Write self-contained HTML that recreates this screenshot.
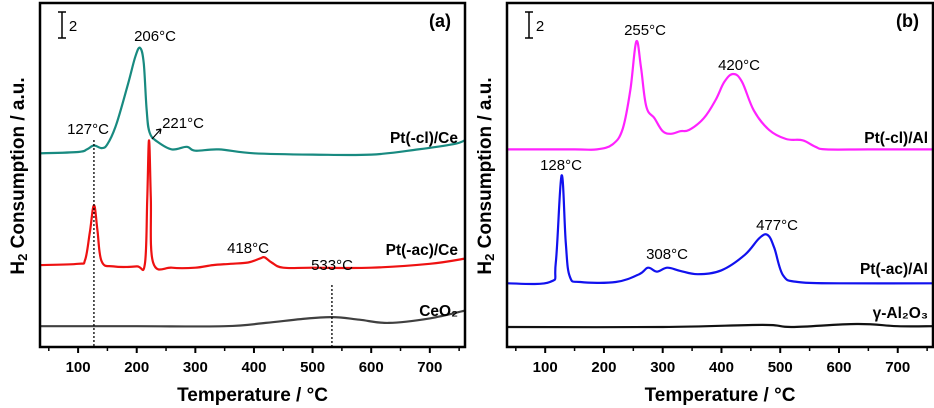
<!DOCTYPE html>
<html><head><meta charset="utf-8"><style>
html,body{margin:0;padding:0;background:#fff;}
svg{display:block;font-family:"Liberation Sans",Arial,sans-serif;}
</style></head><body>
<svg id="chart" width="934" height="408" viewBox="0 0 934 408"></svg>
<script>
const xTicks=[100,200,300,400,500,600,700];
const xMinor=[50,150,250,350,450,550,650,750];
const ptClCe=[[35,14.9],[100,15.0],[115,15.2],[127,15.5],[140,15.3],[150,15.6],[165,17.1],[185,20.2],[198,22.4],[206,23.0],[212,21.8],[217,18.2],[222,16.5],[235,15.8],[260,15.2],[285,15.4],[300,15.1],[340,15.2],[400,14.9],[500,14.8],[600,14.8],[680,15.2],[740,15.6],[760,15.9]];
const ptAcCe=[[35,6.3],[100,6.4],[112,6.7],[120,8.8],[127,10.9],[133,9.0],[140,6.6],[160,6.2],[200,6.2],[214,6.4],[218,11.5],[221,15.9],[224,11.5],[228,6.5],[260,6.1],[300,6.1],[330,6.3],[360,6.4],[390,6.5],[410,6.8],[418,6.9],[430,6.5],[450,6.1],[500,6.1],[600,6.1],[700,6.4],[760,6.8]];
const ceo2=[[35,1.6],[200,1.6],[350,1.6],[420,1.85],[480,2.15],[533,2.3],[580,2.1],[630,1.85],[700,2.2],[760,2.8]];
const ptClAl=[[35,15.2],[150,15.2],[188,15.2],[215,15.6],[232,16.8],[245,19.8],[255,23.5],[263,21.5],[272,18.5],[286,17.6],[300,16.6],[314,16.4],[330,16.6],[345,16.7],[370,17.6],[390,19.0],[405,20.4],[420,21.0],[435,20.4],[455,18.2],[481,16.7],[510,16.0],[538,15.9],[560,15.4],[578,15.2],[650,15.2],[760,15.2]];
const ptAcAl=[[35,4.9],[108,5.0],[118,6.5],[128,13.2],[135,8.0],[142,5.4],[160,5.0],[220,5.0],[260,5.6],[275,6.1],[290,5.8],[308,6.1],[330,5.85],[360,5.6],[400,5.9],[440,7.1],[465,8.4],[479,8.6],[490,7.6],[505,5.5],[530,5.0],[600,4.9],[760,4.9]];
const al2o3=[[35,1.54],[300,1.54],[470,1.7],[520,1.54],[630,1.77],[700,1.6],[760,1.6]];

const NS="http://www.w3.org/2000/svg";
const svg=document.getElementById('chart');
const T0=35,T1=760,yBot=347,yTop=3,ppu=13;
function mk(tag,attrs,parent){const e=document.createElementNS(NS,tag);for(const k in attrs)e.setAttribute(k,attrs[k]);(parent||svg).appendChild(e);return e;}
function txt(x,y,s,size,weight,anchor,parent){const t=mk('text',{x:x,y:y,'font-size':size,'font-weight':weight||'normal','text-anchor':anchor||'middle',fill:'#000'},parent);t.textContent=s;return t;}
function smooth(P){let d='M'+P[0][0].toFixed(1)+','+P[0][1].toFixed(1);
  for(let i=0;i<P.length-1;i++){const p0=P[i-1]||P[i],p1=P[i],p2=P[i+1],p3=P[i+2]||p2;const k=0.18;
    const c1=[p1[0]+(p2[0]-p0[0])*k,p1[1]+(p2[1]-p0[1])*k],c2=[p2[0]-(p3[0]-p1[0])*k,p2[1]-(p3[1]-p1[1])*k];
    d+=' C'+c1.map(v=>v.toFixed(1)).join(',')+' '+c2.map(v=>v.toFixed(1)).join(',')+' '+p2[0].toFixed(1)+','+p2[1].toFixed(1);}
  return d;}
const panels=[{L:40,R:465,tag:'(a)',series:[[ptClCe,'#188a80','pt-cl-ce-trace'],[ptAcCe,'#ee1111','pt-ac-ce-trace'],[ceo2,'#404040','ceo2-trace']]},
{L:507,R:933,tag:'(b)',series:[[ptClAl,'#ff22ff','pt-cl-al-trace'],[ptAcAl,'#1111ee','pt-ac-al-trace'],[al2o3,'#111111','al2o3-trace']]}];
panels.forEach((p,pi)=>{
  const g=mk('g',{});
  
  
  const xs=t=>p.L+(t-T0)/(T1-T0)*(p.R-p.L);
  const ys=v=>yBot-v*ppu;
  p.xs=xs;p.ys=ys;p.g=g;
  p.series.forEach(s=>{
    const pts=s[0].map(q=>[xs(q[0]),ys(q[1])]);
    const path=mk('path',{d:smooth(pts),fill:'none',stroke:s[1],'stroke-width':2.2,'stroke-linejoin':'round'},g);
    
    
  });
  const box=mk('rect',{x:p.L,y:yTop,width:p.R-p.L,height:yBot-yTop,fill:'none',stroke:'#000','stroke-width':2.5},g);
  
  
  xTicks.forEach(t=>{mk('line',{x1:xs(t),x2:xs(t),y1:yBot,y2:yBot+6,stroke:'#000','stroke-width':2},g);
    const l=txt(xs(t),372,String(t),15,'bold','middle',g);
    
    });
  xMinor.forEach(t=>{if(xs(t)<p.R-2)mk('line',{x1:xs(t),x2:xs(t),y1:yBot,y2:yBot+4,stroke:'#000','stroke-width':1.5},g);});
  const xt=txt((p.L+p.R)/2,401,'Temperature / °C',19,'bold','middle',g);
  
  
  const pt=txt(p.R-14,27,p.tag,18,'bold','end',g);
  
  
  const sb=mk('path',{d:`M${p.L+18},12 h8 M${p.L+22},12 V38 M${p.L+18},38 h8`,stroke:'#000','stroke-width':1.5,fill:'none'},g);
  
  
  txt(p.L+33,31,'2',15,'normal','middle',g);
});
function ylab(){const t=mk('text',{x:0,y:0,'font-size':19,'font-weight':'bold','text-anchor':'middle',fill:'#000',transform:'translate(24,176) rotate(-90)'});t.innerHTML='H<tspan font-size="13" dy="3">2</tspan><tspan dy="-3"> Consumption / a.u.</tspan>';return t;}
const y1=ylab();
const y2=ylab();y2.setAttribute('transform','translate(491,176) rotate(-90)');
const A=panels[0],B=panels[1];
[[127,140],[533,285]].forEach(q=>{const l=mk('line',{x1:A.xs(q[0]),x2:A.xs(q[0]),y1:q[1],y2:yBot,stroke:'#000','stroke-width':1.3,'stroke-dasharray':'2,2'});});
const ann=[[A,'206°C',155,41],[A,'127°C',88,134],[A,'221°C',183,128],[A,'418°C',248,253],[A,'533°C',332,270],
[B,'255°C',645,35],[B,'420°C',739,70],[B,'128°C',561,170],[B,'308°C',667,259],[B,'477°C',777,230]];
ann.forEach(a=>{const t=txt(a[2],a[3],a[1],15,'normal','middle');});
const arr=mk('path',{d:'M152,139 L161,129 M161,129 l-5,1 M161,129 l-1,5',stroke:'#000','stroke-width':1.2,fill:'none'});

const names=[[A,'Pt(-cl)/Ce',458,143],[A,'Pt(-ac)/Ce',458,255],[A,'CeO₂',458,316],[B,'Pt(-cl)/Al',928,143],[B,'Pt(-ac)/Al',928,274],[B,'γ-Al₂O₃',928,318]];
names.forEach(n=>{const t=txt(n[2],n[3],n[1],15.5,'bold','end');});
</script>
</body></html>
